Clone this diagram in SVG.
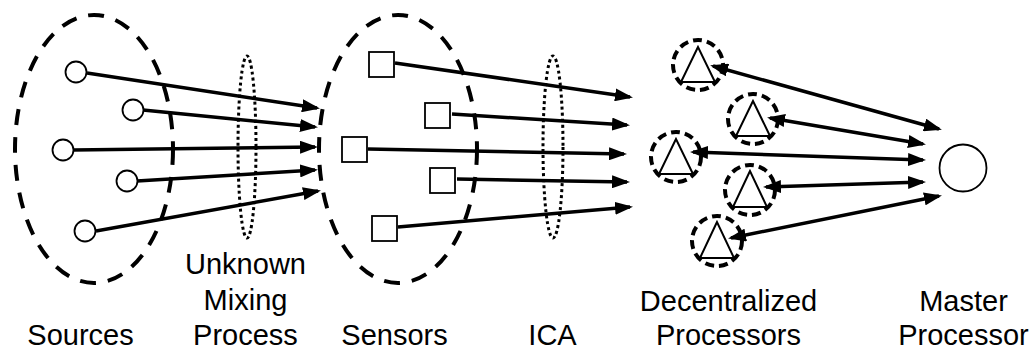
<svg xmlns="http://www.w3.org/2000/svg" width="1033" height="349" viewBox="0 0 1033 349">
<style>
.grp{fill:none;stroke:#000;stroke-width:4;stroke-dasharray:16 12}
.dot{fill:none;stroke:#000;stroke-width:3;stroke-dasharray:3 3}
.src{fill:#fff;stroke:#000;stroke-width:1.8}
.proc{fill:none;stroke:#000;stroke-width:4;stroke-dasharray:9 5}
.tri{fill:#fff;stroke:#000;stroke-width:2}
.edge{fill:none;stroke:#000;stroke-width:3.5}
.lbl{font-family:"Liberation Sans",Arial,Helvetica,sans-serif;font-size:29px;fill:#000;text-anchor:middle}
</style>
<defs>
<marker id="ah" markerUnits="userSpaceOnUse" markerWidth="18" markerHeight="13" refX="15" refY="6.5" orient="auto-start-reverse" viewBox="0 0 18 13">
<path d="M0,0 L18,6.5 L0,13 Z" fill="#000"/>
</marker>
</defs>
<rect width="1033" height="349" fill="#fff"/>

<g id="groups">
<ellipse class="grp" cx="94" cy="149" rx="79" ry="134"/>
<ellipse class="grp" cx="398" cy="149" rx="79" ry="134"/>
<ellipse class="dot" cx="247" cy="147" rx="9" ry="91"/>
<ellipse class="dot" cx="553" cy="147" rx="10" ry="91"/>
</g>

<g id="connectors">
<line class="edge" x1="87" y1="73" x2="317" y2="108" marker-end="url(#ah)"/>
<line class="edge" x1="143" y1="110" x2="315" y2="127" marker-end="url(#ah)"/>
<line class="edge" x1="73" y1="150" x2="315" y2="147" marker-end="url(#ah)"/>
<line class="edge" x1="137" y1="181" x2="315" y2="170" marker-end="url(#ah)"/>
<line class="edge" x1="96" y1="231" x2="318" y2="191" marker-end="url(#ah)"/>

<line class="edge" x1="395" y1="63" x2="630" y2="97" marker-end="url(#ah)"/>
<line class="edge" x1="452" y1="114" x2="627" y2="125" marker-end="url(#ah)"/>
<line class="edge" x1="368" y1="149" x2="624" y2="154" marker-end="url(#ah)"/>
<line class="edge" x1="457" y1="179" x2="627" y2="182" marker-end="url(#ah)"/>
<line class="edge" x1="398" y1="227" x2="630" y2="207" marker-end="url(#ah)"/>

<line class="edge" x1="713" y1="66" x2="939" y2="129" marker-start="url(#ah)" marker-end="url(#ah)"/>
<line class="edge" x1="770" y1="118" x2="923" y2="144" marker-start="url(#ah)" marker-end="url(#ah)"/>
<line class="edge" x1="693" y1="152" x2="923" y2="160" marker-start="url(#ah)" marker-end="url(#ah)"/>
<line class="edge" x1="766" y1="187" x2="923" y2="182" marker-start="url(#ah)" marker-end="url(#ah)"/>
<line class="edge" x1="731" y1="238" x2="939" y2="196" marker-start="url(#ah)" marker-end="url(#ah)"/>
</g>

<g id="sources">
<circle id="s1" class="src" cx="76" cy="72" r="10.5"/>
<circle id="s2" class="src" cx="133" cy="110" r="10.5"/>
<circle id="s3" class="src" cx="63" cy="150" r="10.5"/>
<circle id="s4" class="src" cx="127" cy="181" r="10.5"/>
<circle id="s5" class="src" cx="85" cy="231" r="10.5"/>
</g>

<g id="sensors">
<rect id="m1" class="src" x="369" y="52" width="25" height="25"/>
<rect id="m2" class="src" x="425" y="103" width="25" height="25"/>
<rect id="m3" class="src" x="342" y="137" width="25" height="25"/>
<rect id="m4" class="src" x="430" y="168" width="25" height="25"/>
<rect id="m5" class="src" x="372" y="216" width="25" height="25"/>
</g>

<g id="p1" transform="translate(698,65)"><circle class="proc" r="25"/><polygon class="tri" points="0,-18 -17,17 17,17"/></g>
<g id="p2" transform="translate(753,119)"><circle class="proc" r="25"/><polygon class="tri" points="0,-18 -17,17 17,17"/></g>
<g id="p3" transform="translate(676,157)"><circle class="proc" r="25"/><polygon class="tri" points="0,-18 -17,17 17,17"/></g>
<g id="p4" transform="translate(750,190)"><circle class="proc" r="25"/><polygon class="tri" points="0,-19 -17,17 17,17"/></g>
<g id="p5" transform="translate(717,241)"><circle class="proc" r="25"/><polygon class="tri" points="0,-19 -17,17 17,17"/></g>

<g id="master"><circle class="src" cx="963" cy="168" r="23.5"/></g>

<g id="labels">
<text class="lbl" x="80.5" y="345">Sources</text>
<text class="lbl" x="245.5" y="274">Unknown</text>
<text class="lbl" x="245.5" y="310">Mixing</text>
<text class="lbl" x="245.5" y="345">Process</text>
<text class="lbl" x="394.5" y="345">Sensors</text>
<text class="lbl" x="552.5" y="345">ICA</text>
<text class="lbl" x="728.5" y="311">Decentralized</text>
<text class="lbl" x="728.5" y="345">Processors</text>
<text class="lbl" x="963.5" y="311">Master</text>
<text class="lbl" x="963.5" y="345">Processor</text>
</g>
</svg>
